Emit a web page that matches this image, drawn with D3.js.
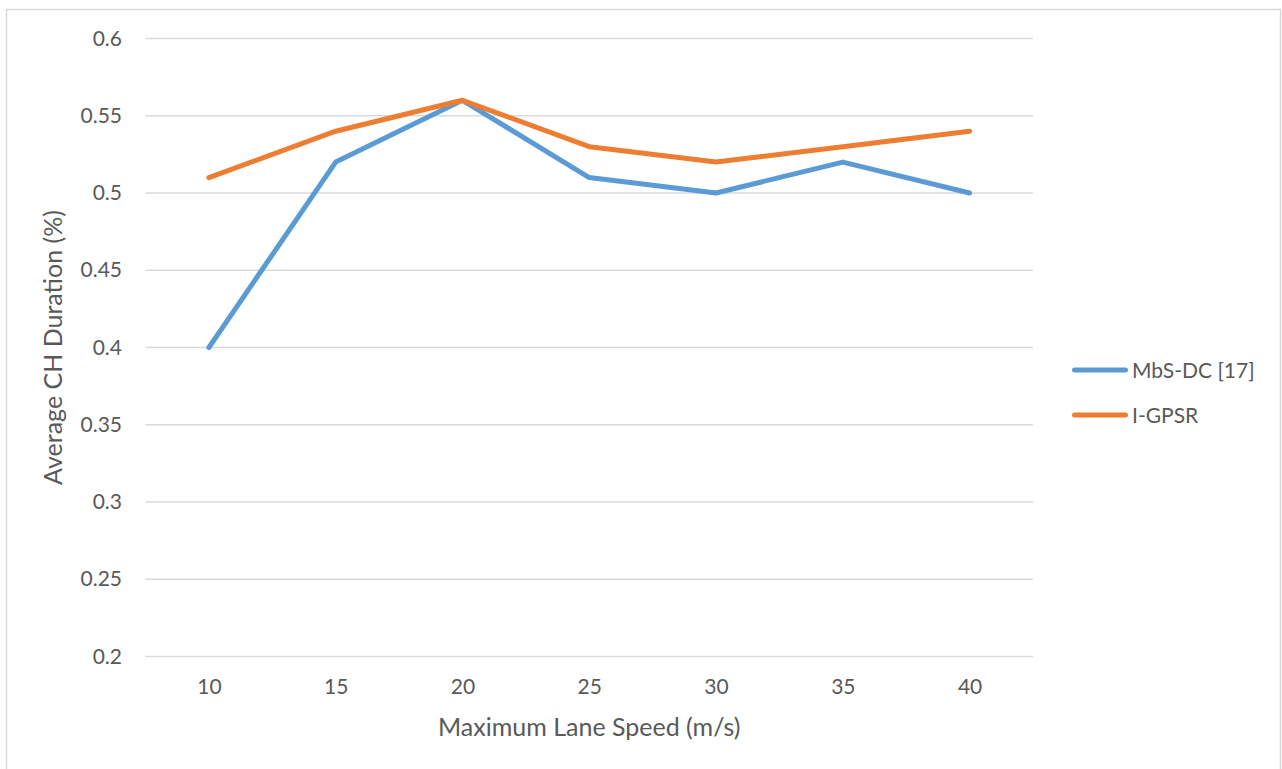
<!DOCTYPE html>
<html>
<head>
<meta charset="utf-8">
<script src="https://cdn.jsdelivr.net/npm/d3@7/dist/d3.min.js"></script>
<style>
  html, body { margin: 0; padding: 0; background: #fff; }
  svg { display: block; }
  text { font-family: Lato, "Open Sans", sans-serif; fill: #595959; }
</style>
</head>
<body>
<svg id="chart" width="1282" height="769"></svg>
<script>
// Category axis (maximum lane speed, m/s)
const speeds = [10, 15, 20, 25, 30, 35, 40];
// Average cluster-head duration for each scheme
const mbsDc = [0.40, 0.52, 0.56, 0.51, 0.50, 0.52, 0.50];
const iGpsr = [0.51, 0.54, 0.56, 0.53, 0.52, 0.53, 0.54];
// Value-axis ticks
const yTicks = [0.2, 0.25, 0.3, 0.35, 0.4, 0.45, 0.5, 0.55, 0.6];

const seriesList = [
  { name: "MbS-DC [17]", values: mbsDc, color: "#5B9BD5" },
  { name: "I-GPSR", values: iGpsr, color: "#ED7D31" }
];

const svg = d3.select("#chart");

// Outer chart frame
svg.append("rect")
  .attr("x", 6.5).attr("y", 9.5)
  .attr("width", 1274).attr("height", 770)
  .attr("fill", "none").attr("stroke", "#d9d9d9").attr("stroke-width", 1.5);

const plot = { left: 145.5, right: 1033, top: 38.5, bottom: 656.5 };

const x = d3.scalePoint()
  .domain(speeds)
  .range([plot.left, plot.right])
  .padding(0.5);

const y = d3.scaleLinear()
  .domain([0.2, 0.6])
  .range([plot.bottom, plot.top]);

// Horizontal gridlines
svg.append("g")
  .selectAll("line")
  .data(yTicks)
  .join("line")
  .attr("x1", plot.left).attr("x2", plot.right)
  .attr("y1", d => y(d)).attr("y2", d => y(d))
  .attr("stroke", "#d9d9d9").attr("stroke-width", 1.5);

// Value axis labels
const yAxis = svg.append("g")
  .attr("transform", `translate(${plot.left},0)`)
  .call(d3.axisLeft(y).tickValues(yTicks).tickFormat(d => String(+d.toFixed(2))).tickSize(0).tickPadding(23.5));
yAxis.select(".domain").remove();
yAxis.selectAll("text")
  .style("font-family", "Lato, 'Open Sans', sans-serif")
  .style("font-size", "21px")
  .attr("fill", "#595959");

// Category axis labels
const xAxis = svg.append("g")
  .attr("transform", `translate(0,${plot.bottom})`)
  .call(d3.axisBottom(x).tickSize(0).tickPadding(23));
xAxis.select(".domain").remove();
xAxis.selectAll("text")
  .style("font-family", "Lato, 'Open Sans', sans-serif")
  .style("font-size", "21px")
  .attr("fill", "#595959");

// Series lines
const line = d3.line()
  .x((d, i) => x(speeds[i]))
  .y(d => y(d));

svg.append("g")
  .selectAll("path")
  .data(seriesList)
  .join("path")
  .attr("d", s => line(s.values))
  .attr("fill", "none")
  .attr("stroke", s => s.color)
  .attr("stroke-width", 5)
  .attr("stroke-linejoin", "round")
  .attr("stroke-linecap", "round");

// Axis titles
svg.append("text")
  .attr("x", (plot.left + plot.right) / 2)
  .attr("y", 736)
  .attr("text-anchor", "middle")
  .style("font-size", "25px")
  .text("Maximum Lane Speed (m/s)");

svg.append("text")
  .attr("transform", `translate(62,${(plot.top + plot.bottom) / 2}) rotate(-90)`)
  .attr("text-anchor", "middle")
  .style("font-size", "25px")
  .text("Average CH Duration (%)");

// Legend
const legend = svg.append("g")
  .selectAll("g")
  .data(seriesList)
  .join("g")
  .attr("transform", (d, i) => `translate(1072,${370 + i * 45})`);

legend.append("line")
  .attr("x1", 2.5).attr("x2", 53.5)
  .attr("stroke", d => d.color)
  .attr("stroke-width", 5)
  .attr("stroke-linecap", "round");

legend.append("text")
  .attr("x", 60)
  .attr("y", 7.5)
  .style("font-size", "21px")
  .text(d => d.name);
</script>
</body>
</html>
